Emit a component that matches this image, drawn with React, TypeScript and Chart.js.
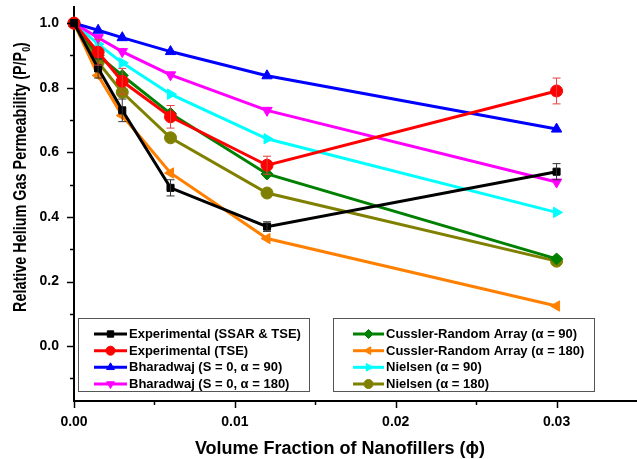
import React, { useEffect, useRef } from 'react';
import { Chart, registerables } from 'chart.js';
import { drawPoint } from 'chart.js/helpers';

Chart.register(...registerables);

const xValues = [0, 0.0015, 0.003, 0.006, 0.012, 0.03];

const expSsarTse = [1.0, 0.86, 0.73, 0.49, 0.37, 0.54];
const expSsarTseErr = [0, 0.03, 0.035, 0.025, 0.015, 0.025];
const expTse = [1.0, 0.91, 0.82, 0.71, 0.56, 0.79];
const expTseErr = [0, 0.04, 0.04, 0.035, 0.028, 0.04];
const bharadwaj90 = [1.0, 0.978, 0.955, 0.912, 0.837, 0.672];
const bharadwaj180 = [1.0, 0.955, 0.912, 0.84, 0.73, 0.508];
const cussler90 = [1.0, 0.9, 0.838, 0.72, 0.533, 0.27];
const cussler180 = [1.0, 0.838, 0.714, 0.536, 0.333, 0.124];
const nielsen90 = [1.0, 0.935, 0.877, 0.78, 0.642, 0.414];
const nielsen180 = [1.0, 0.879, 0.786, 0.645, 0.474, 0.263];

const seriesLabels = [
  'Experimental (SSAR & TSE)',
  'Experimental (TSE)',
  'Bharadwaj (S = 0, \u03B1 = 90)',
  'Bharadwaj (S = 0, \u03B1 = 180)',
  'Cussler-Random Array (\u03B1 = 90)',
  'Cussler-Random Array (\u03B1 = 180)',
  'Nielsen (\u03B1 = 90)',
  'Nielsen (\u03B1 = 180)',
];
const seriesValues = [expSsarTse, expTse, bharadwaj90, bharadwaj180, cussler90, cussler180, nielsen90, nielsen180];
const seriesErrors = [expSsarTseErr, expTseErr, null, null, null, null, null, null];
const seriesColors = ['#000000', '#ff0000', '#0000ff', '#ff00ff', '#008000', '#ff8000', '#00ffff', '#808000'];
const errorColors = ['#333333', '#e04040'];
const seriesStyles = ['rect', 'circle', 'triangle', 'triangle', 'rectRot', 'triangle', 'triangle', 'circle'];
const seriesRotations = [0, 0, 0, 180, 0, -90, 90, 0];
const seriesRadii = [5, 6, 6, 6, 6, 6, 6, 6];

const xTickValues = [0, 0.01, 0.02, 0.03];
const xTickLabels = ['0.00', '0.01', '0.02', '0.03'];
const xMinorTicks = [0.005, 0.015, 0.025];
const yTickValues = [0, 0.2, 0.4, 0.6, 0.8, 1.0];
const yTickLabels = ['0.0', '0.2', '0.4', '0.6', '0.8', '1.0'];
const yMinorTicks = [-0.1, 0.1, 0.3, 0.5, 0.7, 0.9];

const xTitle = 'Volume Fraction of Nanofillers (\u03D5)';
const yTitleMain = 'Relative Helium Gas Permeability (P/P';
const yTitleSub = '0';
const yTitleEnd = ')';

const FONT = '"Liberation Sans", Arial, sans-serif';

const extrasPlugin = {
  id: 'extras',
  afterDatasetsDraw(chart: any) {
    const ctx = chart.ctx;
    const xs = chart.scales.x;
    const ys = chart.scales.y;
    ctx.save();
    seriesErrors.forEach((errs, di) => {
      if (!errs) return;
      ctx.strokeStyle = errorColors[di];
      ctx.lineWidth = 1;
      seriesValues[di].forEach((v, i) => {
        const e = errs[i];
        if (!e) return;
        const px = xs.getPixelForValue(xValues[i]);
        const top = ys.getPixelForValue(v + e);
        const bot = ys.getPixelForValue(v - e);
        ctx.beginPath();
        ctx.moveTo(px, top);
        ctx.lineTo(px, bot);
        ctx.moveTo(px - 4, top);
        ctx.lineTo(px + 4, top);
        ctx.moveTo(px - 4, bot);
        ctx.lineTo(px + 4, bot);
        ctx.stroke();
      });
    });
    ctx.restore();
  },
  afterDraw(chart: any) {
    const ctx = chart.ctx;
    const xs = chart.scales.x;
    const ys = chart.scales.y;
    const area = chart.chartArea;
    ctx.save();
    // tick marks
    ctx.strokeStyle = '#000';
    ctx.lineWidth = 1.5;
    const drawX = (v: number, len: number) => {
      const px = Math.round(xs.getPixelForValue(v)) + 0.5;
      ctx.beginPath();
      ctx.moveTo(px, area.bottom);
      ctx.lineTo(px, area.bottom + len);
      ctx.stroke();
    };
    const drawY = (v: number, len: number) => {
      const py = Math.round(ys.getPixelForValue(v)) + 0.5;
      ctx.beginPath();
      ctx.moveTo(area.left, py);
      ctx.lineTo(area.left - len, py);
      ctx.stroke();
    };
    xTickValues.forEach((v) => drawX(v, 7));
    xMinorTicks.forEach((v) => drawX(v, 4));
    yTickValues.forEach((v) => drawY(v, 7));
    yMinorTicks.forEach((v) => drawY(v, 4));

    // x title
    ctx.fillStyle = '#000';
    ctx.font = `bold 18px ${FONT}`;
    ctx.textAlign = 'center';
    ctx.textBaseline = 'middle';
    ctx.fillText(xTitle, 340, 449.5);

    // y title with subscript
    ctx.save();
    ctx.translate(21.5, 177);
    ctx.rotate(-Math.PI / 2);
    ctx.scale(0.8, 1);
    ctx.textAlign = 'left';
    ctx.font = `bold 18px ${FONT}`;
    const w1 = ctx.measureText(yTitleMain).width;
    const w3 = ctx.measureText(yTitleEnd).width;
    ctx.font = `bold 11px ${FONT}`;
    const w2 = ctx.measureText(yTitleSub).width;
    const start = -(w1 + w2 + w3) / 2;
    ctx.font = `bold 18px ${FONT}`;
    ctx.fillText(yTitleMain, start, 0);
    ctx.font = `bold 11px ${FONT}`;
    ctx.fillText(yTitleSub, start + w1, 5);
    ctx.font = `bold 18px ${FONT}`;
    ctx.fillText(yTitleEnd, start + w1 + w2, 0);
    ctx.restore();

    // legends
    const boxes = [
      { x: 78, y: 318, w: 231, h: 73, lx0: 94, lx1: 127, tx: 129, idx: [0, 1, 2, 3] },
      { x: 333, y: 318, w: 261, h: 73, lx0: 353, lx1: 384, tx: 386, idx: [4, 5, 6, 7] },
    ];
    const rowY = [334, 350.7, 367.3, 384];
    boxes.forEach((b) => {
      ctx.fillStyle = '#fff';
      ctx.fillRect(b.x, b.y, b.w, b.h);
      ctx.strokeStyle = '#555';
      ctx.lineWidth = 1;
      ctx.strokeRect(b.x + 0.5, b.y + 0.5, b.w, b.h);
      b.idx.forEach((di, r) => {
        const y = rowY[r];
        ctx.strokeStyle = seriesColors[di];
        ctx.lineWidth = 3;
        ctx.beginPath();
        ctx.moveTo(b.lx0, y);
        ctx.lineTo(b.lx1, y);
        ctx.stroke();
        ctx.fillStyle = seriesColors[di];
        ctx.strokeStyle = seriesColors[di];
        ctx.lineWidth = 1;
        drawPoint(ctx, {
          pointStyle: seriesStyles[di],
          radius: 4.5,
          rotation: seriesRotations[di],
          borderWidth: 1,
        } as any, (b.lx0 + b.lx1) / 2, y);
        ctx.fillStyle = '#000';
        ctx.font = `bold 13px ${FONT}`;
        ctx.textAlign = 'left';
        ctx.textBaseline = 'middle';
        ctx.fillText(seriesLabels[di], b.tx, y + 0.5);
      });
    });
    ctx.restore();
  },
};

export default function App() {
  const ref = useRef<HTMLCanvasElement>(null);
  useEffect(() => {
    if (!ref.current) return;
    const datasets = seriesValues.map((vals, di) => ({
      label: seriesLabels[di],
      data: vals.map((v, i) => ({ x: xValues[i], y: v })),
      borderColor: seriesColors[di],
      backgroundColor: seriesColors[di],
      borderWidth: 3,
      pointStyle: seriesStyles[di],
      pointRotation: seriesRotations[di],
      pointRadius: seriesRadii[di],
      pointBorderWidth: 1,
      pointBackgroundColor: seriesColors[di],
      showLine: true,
      tension: 0,
      clip: false as any,
    }));
    const chart = new Chart(ref.current, {
      type: 'scatter',
      data: { datasets },
      plugins: [extrasPlugin],
      options: {
        animation: false,
        responsive: false,
        events: [],
        layout: { padding: { top: 7, right: 0, left: 0, bottom: 0 }, autoPadding: false },
        plugins: { legend: { display: false }, tooltip: { enabled: false } },
        scales: {
          x: {
            type: 'linear',
            min: 0,
            max: 0.035,
            afterBuildTicks: (s: any) => {
              s.ticks = xTickValues.map((v) => ({ value: v }));
            },
            afterFit: (s: any) => {
              s.height = 58;
              s.paddingLeft = 0;
              s.paddingRight = 0;
              s.paddingTop = 0;
              s.paddingBottom = 0;
            },
            ticks: {
              autoSkip: false,
              maxRotation: 0,
              padding: 5,
              color: '#000',
              font: { family: FONT, size: 14, weight: 'bold' },
              callback: (_v: any, i: number) => xTickLabels[i],
            },
            grid: { display: false },
            border: { display: true, color: '#000', width: 2 },
          },
          y: {
            type: 'linear',
            min: -0.17,
            max: 1.05,
            afterBuildTicks: (s: any) => {
              s.ticks = yTickValues.map((v) => ({ value: v }));
            },
            afterFit: (s: any) => {
              s.width = 74;
              s.paddingLeft = 0;
              s.paddingRight = 0;
              s.paddingTop = 0;
              s.paddingBottom = 0;
            },
            ticks: {
              autoSkip: false,
              padding: 7,
              color: '#000',
              font: { family: FONT, size: 14, weight: 'bold' },
              callback: (_v: any, i: number) => yTickLabels[i],
            },
            grid: { display: false },
            border: { display: true, color: '#000', width: 2 },
          },
        },
      } as any,
    });
    return () => chart.destroy();
  }, []);
  return (
    <div style={{ position: 'fixed', left: 0, top: 0, width: 637, height: 459, background: '#fff' }}>
      <canvas ref={ref} width={637} height={459} />
    </div>
  );
}
